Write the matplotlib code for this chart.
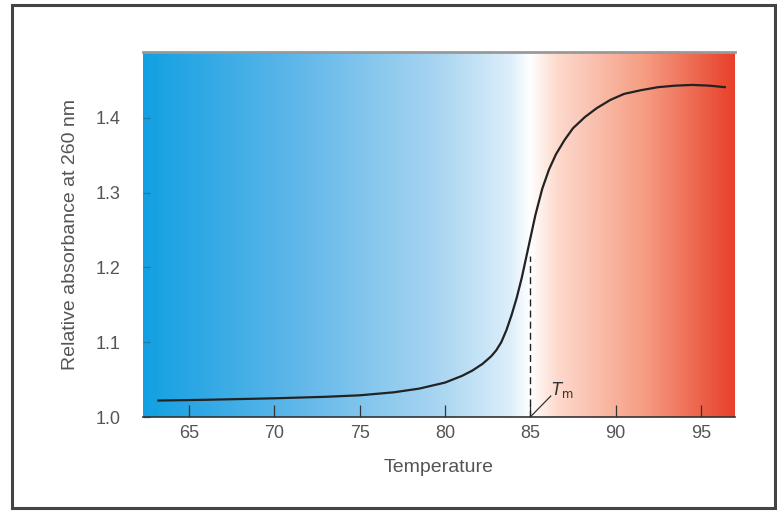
import numpy as np
import matplotlib
matplotlib.use('Agg')
import matplotlib.pyplot as plt
from matplotlib.colors import LinearSegmentedColormap
from matplotlib.patches import Rectangle

plt.rcParams['font.family'] = ['Liberation Sans', 'DejaVu Sans']

# melting curve
temp = [63.2, 66.0, 70.0, 73.0, 75.0, 77.0, 78.5, 80.0, 81.0, 81.6, 82.2, 82.7, 83.0,
        83.3, 83.6, 83.9, 84.2, 84.5, 84.9, 85.3, 85.7, 86.1, 86.5, 87.0, 87.5, 88.2,
        88.9, 89.7, 90.5, 91.5, 92.5, 93.5, 94.5, 95.5, 96.4]
absorb = [1.022, 1.023, 1.025, 1.027, 1.029, 1.033, 1.038, 1.046, 1.055, 1.062, 1.071,
          1.081, 1.089, 1.100, 1.116, 1.136, 1.159, 1.186, 1.228, 1.270, 1.305, 1.331,
          1.351, 1.370, 1.386, 1.401, 1.413, 1.424, 1.432, 1.437, 1.441, 1.443, 1.444,
          1.443, 1.441]
tm = 85.0
tm_abs = 1.215
xticks = [65, 70, 75, 80, 85, 90, 95]
yticks = [1.0, 1.1, 1.2, 1.3, 1.4]

fig = plt.figure(figsize=(7.77, 5.13), dpi=100)
# outer frame
fig.patches.append(Rectangle((12 / 777, 5 / 513), 763 / 777, 503 / 513,
                             transform=fig.transFigure, fill=False,
                             edgecolor='#444444', linewidth=2.2))

ax = fig.add_axes([143 / 777, 1 - 417 / 513, (735 - 143) / 777, (417 - 52) / 513])
xmin, xmax, ymin, ymax = 62.3, 97.0, 1.0, 1.488

# blue -> white -> red background
cmap = LinearSegmentedColormap.from_list('heat', [
    (0.0, '#12a0e2'), (0.25, '#5db6e9'), (0.5, '#a9d5f1'),
    (0.62, '#dceefa'), (0.655, '#ffffff'), (0.70, '#fddacd'),
    (0.85, '#f59c82'), (1.0, '#e8402a')])
grad = np.linspace(0, 1, 512).reshape(1, -1)
ax.imshow(grad, cmap=cmap, aspect='auto', extent=(xmin, xmax, ymin, ymax), zorder=0)

ax.plot(temp, absorb, color='#222222', linewidth=1.6, solid_joinstyle='round', zorder=3)
ax.plot([tm, tm], [ymin, tm_abs], color='#222222', linewidth=1.0,
        linestyle=(0, (5, 3)), zorder=3)
ax.plot([tm, 86.2], [ymin, 1.028], color='#333333', linewidth=0.9, zorder=3)
ax.text(86.2, 1.030, r'$T_{\rm m}$', fontsize=12, color='#333333', zorder=4)

ax.set_xlim(xmin, xmax)
ax.set_ylim(ymin, ymax)
ax.set_xticks(xticks)
ax.set_yticks(yticks)
ax.set_yticklabels(['%.1f' % v for v in yticks])
ax.tick_params(axis='x', direction='in', length=9, width=0.9, color='#333333',
               labelsize=13, labelcolor='#555555', pad=6)
ax.tick_params(axis='y', direction='in', length=5, width=0.9, color='#2277aa',
               labelsize=13, labelcolor='#555555', pad=16)

for side in ['left', 'right']:
    ax.spines[side].set_visible(False)
ax.spines['top'].set_color('#999999')
ax.spines['top'].set_linewidth(2.0)
ax.spines['bottom'].set_color('#333333')
ax.spines['bottom'].set_linewidth(1.2)

ax.set_xlabel('Temperature', fontsize=14, color='#555555', labelpad=12)
ax.set_ylabel('Relative absorbance at 260 nm', fontsize=14, color='#555555', labelpad=12)

fig.savefig('out.png', dpi=100)
